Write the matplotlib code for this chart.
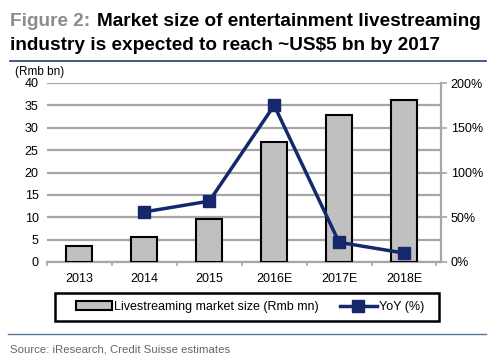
import matplotlib
matplotlib.use("Agg")
import matplotlib.pyplot as plt
from matplotlib.lines import Line2D
from matplotlib.patches import Patch, Rectangle
import numpy as np

plt.rcParams['font.family'] = ['Liberation Sans', 'DejaVu Sans']

categories = ["2013", "2014", "2015", "2016E", "2017E", "2018E"]
market_size = [3.6, 5.6, 9.7, 26.8, 32.9, 36.2]
yoy_years = ["2014", "2015", "2016E", "2017E", "2018E"]
yoy_pct = [56, 68, 175, 22, 10]

W, H = 488, 358
fig = plt.figure(figsize=(W/100, H/100), dpi=100)

# title
fig.text(10/W, 1-21/H, "Figure 2:", color="#8c8c8c", fontsize=13.7, fontweight="bold", va="center", ha="left")
fig.text(97/W, 1-21/H, "Market size of entertainment livestreaming", color="black", fontsize=13.7, fontweight="bold", va="center", ha="left")
fig.text(10/W, 1-45/H, "industry is expected to reach ~US$5 bn by 2017", color="black", fontsize=13.7, fontweight="bold", va="center", ha="left")
fig.add_artist(Line2D([10/W, 486/W], [1-61/H, 1-61/H], color="#1f3f6e", lw=1.2))
fig.add_artist(Line2D([8/W, 486/W], [1-334/H, 1-334/H], color="#5a7a9a", lw=1.0))
fig.text(10/W, 1-349/H, "Source: iResearch, Credit Suisse estimates", color="#666666", fontsize=8.2, va="center", ha="left")

ax = fig.add_axes([47/W, 1-262/H, (441-47)/W, (262-83)/H])
x = np.arange(len(categories))
ax.bar(x, market_size, width=0.4, color="#c0c0c0", edgecolor="black", linewidth=1.5, zorder=3)
ax.set_ylim(0, 40)
ax.set_xlim(-0.5, 5.57)
ax.set_yticks(range(0, 41, 5))
ax.yaxis.grid(True, color="#a6a6a6", lw=1.6, zorder=0)
ax.set_axisbelow(True)
for s in ["top", "left", "right"]:
    ax.spines[s].set_visible(False)
ax.spines["bottom"].set_color("#a6a6a6")
ax.spines["bottom"].set_linewidth(1.6)
ax.set_xticks(x)
ax.set_xticklabels(categories)
ax.set_xticks(np.arange(-0.5, 6, 1), minor=True)
ax.tick_params(axis="x", which="major", length=0, pad=8, labelsize=9)
ax.tick_params(axis="x", which="minor", length=3, color="#a6a6a6", width=1.2)
ax.tick_params(axis="y", length=0, pad=6, labelsize=9)
fig.text(40/W, 1-72/H, "(Rmb bn)", fontsize=8.5, ha="center", va="center")

ax2 = ax.twinx()
xi = [categories.index(c) for c in yoy_years]
ax2.plot(xi, yoy_pct, color="#14286b", lw=2.5, marker="s", markersize=8, zorder=5)
ax2.set_ylim(0, 200)
ax2.set_yticks(range(0, 201, 50))
ax2.set_yticklabels([f"{v}%" for v in range(0, 201, 50)])
for s in ["top", "left", "bottom"]:
    ax2.spines[s].set_visible(False)
ax2.spines["right"].set_color("#a6a6a6")
ax2.spines["right"].set_linewidth(1.6)
ax2.tick_params(axis="y", length=4, color="#a6a6a6", width=1.2, pad=3, labelsize=9)

# legend frame
fig.add_artist(Rectangle((55/W, 1-321/H), (439-55)/W, 28/H, transform=fig.transFigure,
                         facecolor="white", edgecolor="black", linewidth=1.8, zorder=1))
handles = [Patch(facecolor="#c0c0c0", edgecolor="black", linewidth=1.5, label="Livestreaming market size (Rmb mn)"),
           Line2D([], [], color="#14286b", lw=2.5, marker="s", markersize=8, label="YoY (%)")]
leg = fig.legend(handles=handles, loc="center", bbox_to_anchor=(250/W, 1-307/H), ncol=2,
                 frameon=False, fontsize=9,
                 handlelength=2.9, handletextpad=0.2, columnspacing=1.7, borderpad=0.3)
leg.set_zorder(2)

fig.savefig("out.png", dpi=100)
